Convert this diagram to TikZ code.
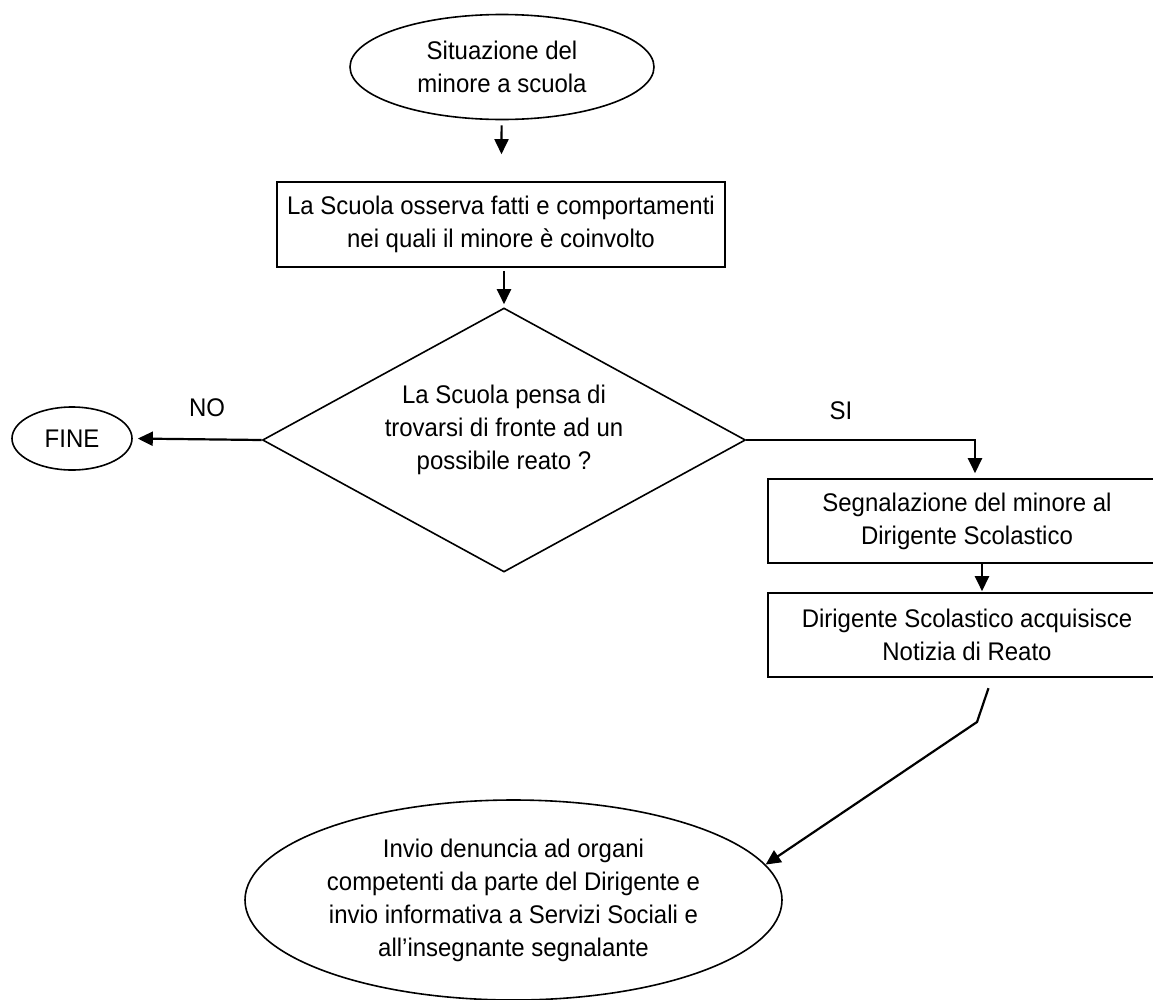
\documentclass[tikz,border=0pt]{standalone}
\usepackage{fontspec}
\setmainfont{Liberation Sans}[FakeStretch=0.94]
\usetikzlibrary{shapes.geometric,arrows.meta}
\tikzset{
  flow/.style={draw,line width=1.6pt,align=center,inner sep=0pt},
  oval/.style={flow,ellipse},
  box/.style={flow,rectangle,minimum width=398pt,minimum height=84pt},
  arr/.style={-{Triangle[length=15pt,width=14pt]},line width=2.2pt}
}
\begin{document}
\begin{tikzpicture}[x=1pt,y=-1pt,font=\fontsize{25.5}{33}\selectfont]
  \clip (0,0) rectangle (1153,999);
  \draw
    (502,67) node[oval,minimum width=304pt,minimum height=105pt] (start){Situazione del\\minore a scuola}
    (501,224.5) node[flow,minimum width=448pt,minimum height=85pt] (observe){La Scuola osserva fatti e comportamenti\\nei quali il minore è coinvolto}
    (504,440) node[flow,diamond,aspect=1.83,minimum width=483pt,minimum height=264pt] (ask){}
    (504,430) node[align=center] (asktext){La Scuola pensa di\\trovarsi di fronte ad un\\possibile reato ?}
    (72,438.5) node[oval,minimum width=120pt,minimum height=63pt] (fine){FINE}
    (967,521) node[box] (report){Segnalazione del minore al\\Dirigente Scolastico}
    (967,635) node[box] (notice){Dirigente Scolastico acquisisce\\Notizia di Reato}
    (513.5,900) node[oval,minimum width=537pt,minimum height=200pt] (send){Invio denuncia ad organi\\competenti da parte del Dirigente e\\invio informativa a Servizi Sociali e\\all’insegnante segnalante}
    (207,408) node (no){NO}
    (841,411) node (si){SI};
  \coordinate (kink) at (977,722);
  \begin{scope}[arr]
    \draw[shorten <=5pt,shorten >=27pt] (start) -- (observe);
    \draw[shorten <=3pt,shorten >=3pt] (observe.south -| ask.north) -- (ask.north);
    \draw[shorten >=5pt] (ask.west) -- (fine.east);
    \draw[shorten >=5pt] (ask.east) -| ([xshift=8pt]report.north);
    \draw[shorten >=1pt] ([xshift=15pt]report.south) -- ([xshift=15pt]notice.north);
    \draw[shorten <=11pt] ([xshift=25pt]notice.south) -- (kink) -- (send.8);
  \end{scope}
\end{tikzpicture}
\end{document}
